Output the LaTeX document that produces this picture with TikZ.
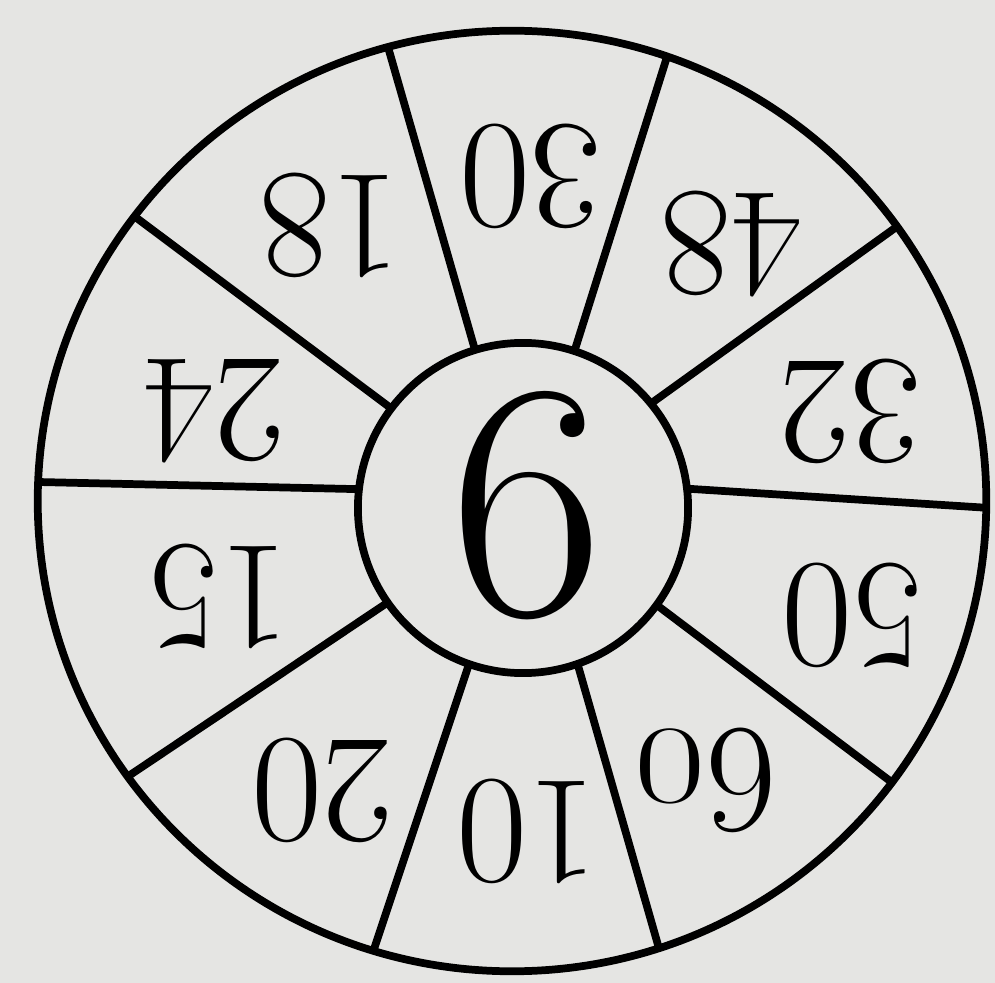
\documentclass[tikz,border=0pt]{standalone}
\usepackage{fontspec}
\usetikzlibrary{calc}
\definecolor{paper}{RGB}{229,229,227}
\tikzset{num/.style={font=\fontsize{44}{44}\selectfont, inner sep=0pt, rotate=180}}
\begin{document}
\begin{tikzpicture}[x=0.01cm,y=-0.01cm,line width=2.2pt]
        \fill [paper] (0,0) rectangle (995,983);
        \useasboundingbox (0,0) rectangle (995,983);
        \begin{scope}
            \clip (512,501) ellipse [x radius=4.74cm, y radius=4.70cm];
            \foreach \xa/\ya/\xb/\yb in {473/343/390/54, 577/343/666/60, 660/397/895/228, 692/489/990/508, 666/612/898/787,
                581/676/660/952, 466/673/374/949, 378/609/136/771, 352/489/38/482, 384/403/146/225}
                \draw ($(\xa,\ya)!-0.1!(\xb,\yb)$) -- ($(\xa,\ya)!1.1!(\xb,\yb)$);
        \end{scope}
        \filldraw [fill=paper] (523,508) circle [radius=1.65cm];
        \draw (512,501) ellipse [x radius=4.74cm, y radius=4.70cm];
        \node [font=\fontsize{96}{96}\selectfont, inner sep=0pt] (mid) at (527,506) {6};
        \node [num] (n32) at (850,411) {32};
        \node [num] (n48) at (731,244) {48};
        \node [num] (n30) at (530,176) {30};
        \node [num] (n18) at (330,225) {18};
        \node [num] (n24) at (214,411) {24};
        \node [num] (n15) at (219,596) {15};
        \node [num] (n20) at (322,790) {20};
        \node [num] (n10) at (527,831) {10};
        \node [num] (n60) at (705,780) {6\scalebox{1}[0.72]{0}};
        \node [num] (n50) at (852,615) {50};
    \end{tikzpicture}
\end{document}
